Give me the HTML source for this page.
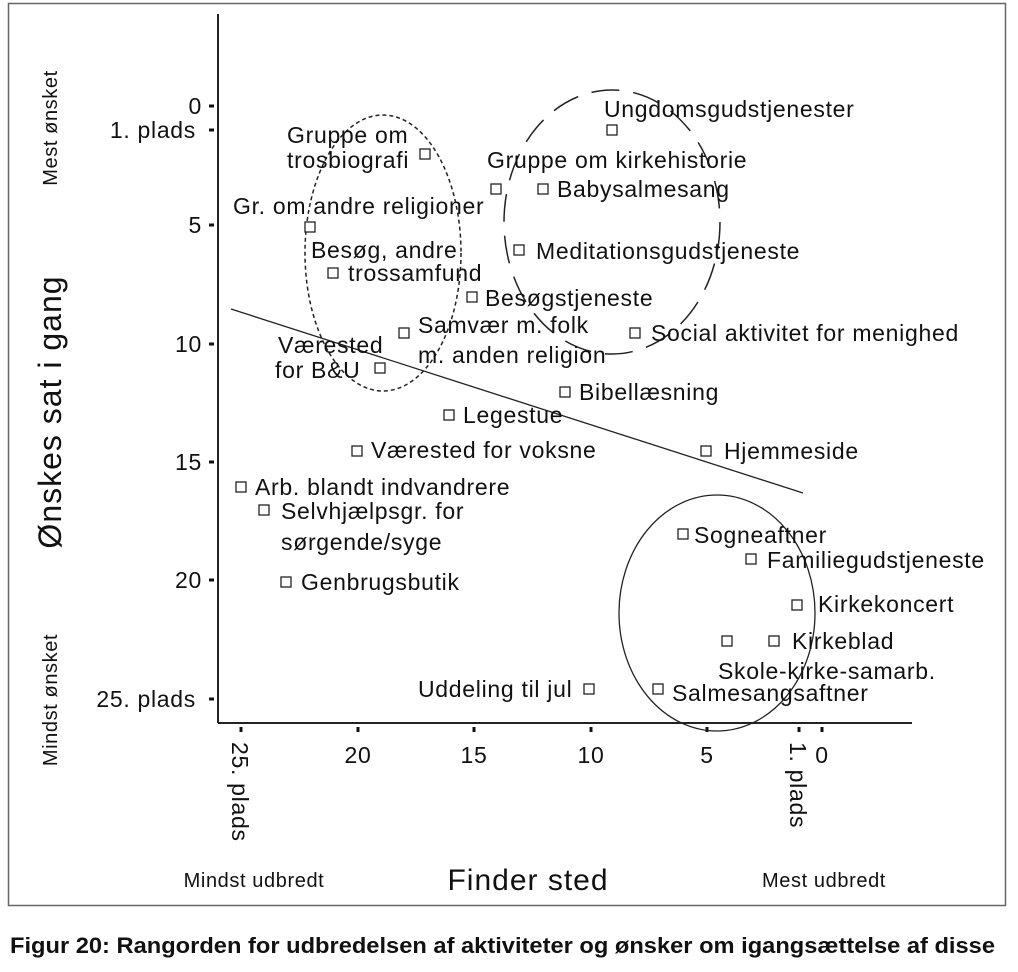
<!DOCTYPE html><html><head><style>body{margin:0;background:#fff}svg text{font-family:"Liberation Sans",sans-serif;fill:#111}</style></head><body>
<svg width="1018" height="967" viewBox="0 0 1018 967" xmlns="http://www.w3.org/2000/svg">
<rect x="8.5" y="3.5" width="997" height="902" fill="none" stroke="#666" stroke-width="1.5"/>
<line x1="218" y1="14" x2="218" y2="723" stroke="#222" stroke-width="2"/>
<line x1="218" y1="723" x2="912" y2="723" stroke="#222" stroke-width="2"/>
<g stroke="#111" stroke-width="3">
<line x1="209" y1="106" x2="214" y2="106"/><line x1="209" y1="130" x2="214" y2="130"/><line x1="209" y1="225" x2="214" y2="225"/><line x1="209" y1="344" x2="214" y2="344"/><line x1="209" y1="462" x2="214" y2="462"/><line x1="209" y1="580" x2="214" y2="580"/><line x1="209" y1="699" x2="214" y2="699"/>
<line x1="241" y1="727" x2="241" y2="732"/><line x1="358" y1="727" x2="358" y2="732"/><line x1="474" y1="727" x2="474" y2="732"/><line x1="591" y1="727" x2="591" y2="732"/><line x1="707" y1="727" x2="707" y2="732"/><line x1="799" y1="727" x2="799" y2="732"/><line x1="822" y1="727" x2="822" y2="732"/>
</g>
<g font-size="23" letter-spacing="0.7" text-anchor="end">
<text x="202" y="114">0</text><text x="196" y="138">1. plads</text><text x="202" y="233">5</text><text x="202" y="352">10</text><text x="202" y="470">15</text><text x="202" y="588">20</text><text x="196" y="707">25. plads</text>
</g>
<g font-size="23" letter-spacing="0.7" text-anchor="middle">
<text x="358" y="763">20</text><text x="474" y="763">15</text><text x="591" y="763">10</text><text x="707" y="763">5</text><text x="822" y="763">0</text>
</g>
<text font-size="23" letter-spacing="0.7" transform="translate(232,742) rotate(90)">25. plads</text>
<text font-size="23" letter-spacing="0.7" transform="translate(790,742) rotate(90)">1. plads</text>
<text font-size="20" letter-spacing="0.6" text-anchor="middle" transform="translate(57,128) rotate(-90)">Mest ønsket</text>
<text font-size="20" letter-spacing="0.6" text-anchor="middle" transform="translate(57,700) rotate(-90)">Mindst ønsket</text>
<text font-size="32" letter-spacing="1" text-anchor="middle" transform="translate(61,412) rotate(-90)">Ønskes sat i gang</text>
<text font-size="30" letter-spacing="1" text-anchor="middle" x="528" y="890">Finder sted</text>
<text font-size="20" letter-spacing="0.6" text-anchor="middle" x="254" y="887">Mindst udbredt</text>
<text font-size="20" letter-spacing="0.6" text-anchor="middle" x="824" y="887">Mest udbredt</text>
<line x1="231" y1="309" x2="803" y2="493" stroke="#222" stroke-width="1.3"/>
<ellipse cx="383" cy="253" rx="78" ry="138" fill="none" stroke="#222" stroke-width="1.5" stroke-dasharray="4,3"/>
<ellipse cx="612" cy="222" rx="108" ry="132" fill="none" stroke="#222" stroke-width="1.5" stroke-dasharray="28,14"/>
<ellipse cx="717" cy="613" rx="98" ry="118" fill="none" stroke="#222" stroke-width="1.3"/>
<g fill="#fff" stroke="#222" stroke-width="1.3">
<rect x="607" y="125" width="10" height="10"/><rect x="420" y="149" width="10" height="10"/><rect x="491" y="184" width="10" height="10"/><rect x="538" y="184" width="10" height="10"/><rect x="305" y="222" width="10" height="10"/><rect x="514" y="245" width="10" height="10"/><rect x="328" y="268" width="10" height="10"/><rect x="467" y="292" width="10" height="10"/><rect x="399" y="328" width="10" height="10"/><rect x="630" y="328" width="10" height="10"/><rect x="375" y="363" width="10" height="10"/><rect x="560" y="387" width="10" height="10"/><rect x="444" y="410" width="10" height="10"/><rect x="352" y="446" width="10" height="10"/><rect x="701" y="446" width="10" height="10"/><rect x="236" y="482" width="10" height="10"/><rect x="259" y="505" width="10" height="10"/><rect x="281" y="577" width="10" height="10"/><rect x="678" y="529" width="10" height="10"/><rect x="746" y="554" width="10" height="10"/><rect x="792" y="600" width="10" height="10"/><rect x="769" y="636" width="10" height="10"/><rect x="722" y="636" width="10" height="10"/><rect x="584" y="684" width="10" height="10"/><rect x="653" y="684" width="10" height="10"/>
</g>
<g font-size="23" letter-spacing="0.7">
<text x="604" y="117">Ungdomsgudstjenester</text>
<text x="287" y="143">Gruppe om</text><text x="287" y="168">trosbiografi</text>
<text x="487" y="168">Gruppe om kirkehistorie</text>
<text x="557" y="197">Babysalmesang</text>
<text x="233" y="214">Gr. om andre religioner</text>
<text x="536" y="259">Meditationsgudstjeneste</text>
<text x="311" y="258">Besøg, andre</text><text x="348" y="281">trossamfund</text>
<text x="485" y="306">Besøgstjeneste</text>
<text x="418" y="333">Samvær m. folk</text><text x="418" y="363">m. anden religion</text>
<text x="651" y="341">Social aktivitet for menighed</text>
<text x="278" y="353">Værested</text><text x="275" y="378">for B&amp;U</text>
<text x="579" y="400">Bibellæsning</text>
<text x="463" y="423">Legestue</text>
<text x="371" y="458">Værested for voksne</text>
<text x="724" y="459">Hjemmeside</text>
<text x="255" y="495">Arb. blandt indvandrere</text>
<text x="281" y="519">Selvhjælpsgr. for</text><text x="281" y="550">sørgende/syge</text>
<text x="301" y="590">Genbrugsbutik</text>
<text x="694" y="543">Sogneaftner</text>
<text x="767" y="568">Familiegudstjeneste</text>
<text x="818" y="612">Kirkekoncert</text>
<text x="792" y="649">Kirkeblad</text>
<text x="718" y="679">Skole-kirke-samarb.</text>
<text x="418" y="697">Uddeling til jul</text>
<text x="672" y="701">Salmesangsaftner</text>
</g>
<text x="10" y="953" font-size="22" font-weight="bold" textLength="985" lengthAdjust="spacingAndGlyphs">Figur 20:  Rangorden for udbredelsen af aktiviteter og ønsker om igangsættelse af disse</text>
</svg></body></html>
